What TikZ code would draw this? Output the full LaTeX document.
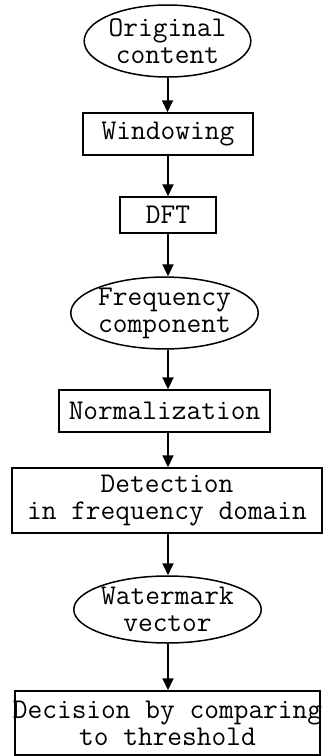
\documentclass[tikz,border=0pt]{standalone}
\usepackage{fontspec}
\usepackage{tikz}
\usetikzlibrary{arrows.meta,shapes.geometric}

\begin{document}
\begin{tikzpicture}[
  x=0.5pt,y=-0.5pt,
  font=\ttfamily\fontsize{14.3}{13.5}\selectfont,
  caja/.style={draw,line width=0.75pt,inner sep=2pt,align=center},
  elipse/.style={draw,ellipse,line width=0.75pt,inner sep=0pt,align=center},
  arr/.style={-{Triangle[length=6pt,width=5.5pt]},line width=1pt}
]
  \useasboundingbox (0,0) rectangle (325,756);
  \node[elipse,minimum width=72.5pt,minimum height=36pt] (orig) at (167.5,41) {Original\\content};
  \node[caja,minimum width=85pt,minimum height=21pt] (window) at (168,134) {Windowing};
  \node[caja,minimum width=48pt,minimum height=18pt] (dft) at (168,215) {DFT};
  \node[elipse,minimum width=81.5pt,minimum height=35pt] (freq) at (164.5,313) {Frequency\\component};
  \node[caja,minimum width=105.5pt,minimum height=21pt] (norm) at (164.5,411) {Normalization};
  \node[caja,minimum width=155pt,minimum height=32.5pt] (detect) at (167,500.5) {Detection\\in frequency domain};
  \node[elipse,minimum width=90.5pt,minimum height=33.5pt] (water) at (167.5,609.5) {Watermark\\vector};
  \node[caja,inner xsep=-1pt,minimum height=32pt] (decision) at (167.5,723) {Decision by comparing\\to threshold};

  \draw[arr] (orig.south) -- (orig.south |- window.north);
  \draw[arr] (window.south) -- (dft.north);
  \draw[arr] (dft.south) -- (dft.south |- freq.north);
  \draw[arr] (dft.south |- freq.south) -- (dft.south |- norm.north);
  \draw[arr] (dft.south |- norm.south) -- (dft.south |- detect.north);
  \draw[arr] (dft.south |- detect.south) -- (dft.south |- water.north);
  \draw[arr] (dft.south |- water.south) -- (dft.south |- decision.north);
\end{tikzpicture}
\end{document}
